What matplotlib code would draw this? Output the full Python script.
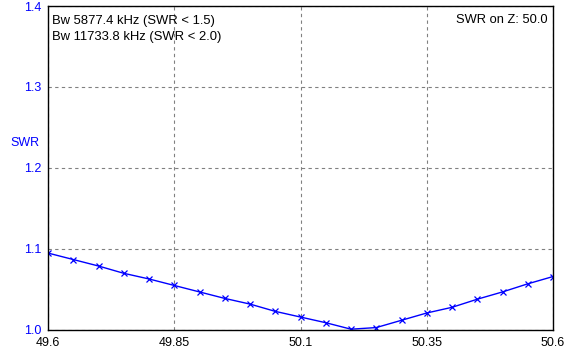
import matplotlib
matplotlib.use("Agg")
import matplotlib.pyplot as plt

freq = [49.60, 49.65, 49.70, 49.75, 49.80, 49.85, 49.90, 49.95, 50.00, 50.05, 50.10,
        50.15, 50.20, 50.25, 50.30, 50.35, 50.40, 50.45, 50.50, 50.55, 50.60]
swr = [1.095, 1.087, 1.079, 1.070, 1.063, 1.055, 1.047, 1.039, 1.032, 1.023, 1.016,
       1.009, 1.001, 1.003, 1.012, 1.021, 1.028, 1.038, 1.047, 1.057, 1.066]
xticks = [49.6, 49.85, 50.1, 50.35, 50.6]
xticklabels = ["49.6", "49.85", "50.1", "50.35", "50.6"]
yticks = [1.0, 1.1, 1.2, 1.3, 1.4]
yticklabels = ["1.0", "1.1", "1.2", "1.3", "1.4"]
info_left = ["Bw 5877.4 kHz (SWR < 1.5)", "Bw 11733.8 kHz (SWR < 2.0)"]
info_right = "SWR on Z: 50.0"

plt.rcParams['font.family'] = ['Liberation Sans', 'DejaVu Sans']
fig = plt.figure(figsize=(5.79, 3.56), dpi=100)
W, H = 579, 356
ax = fig.add_axes([48 / W, 1 - 330 / H, (553 - 48) / W, (330 - 6) / H])
ax.plot(freq, swr, color='#0000ff', lw=1.0, marker='x', ms=5, mew=0.9)
ax.set_xlim(49.6, 50.6)
ax.set_ylim(1.0, 1.4)
ax.set_xticks(xticks)
ax.set_xticklabels(xticklabels, fontsize=9, color='black')
ax.set_yticks(yticks)
ax.set_yticklabels(yticklabels, fontsize=9, color='#0000ff')
ax.tick_params(length=0, pad=5)
ax.grid(True, color='#808080', ls=(0, (3, 3)), lw=0.8)
for s in ax.spines.values():
    s.set_color('black')
    s.set_linewidth(1.0)
fig.text(10 / W, 1 - 143 / H, "SWR", color='#0000ff', fontsize=9, va='center', ha='left')
fig.text(52 / W, 1 - 21 / H, info_left[0], fontsize=9.4, va='center', ha='left')
fig.text(52 / W, 1 - 37 / H, info_left[1], fontsize=9.4, va='center', ha='left')
fig.text(548 / W, 1 - 20 / H, info_right, fontsize=9.3, va='center', ha='right')
fig.savefig("out.png", dpi=100)
